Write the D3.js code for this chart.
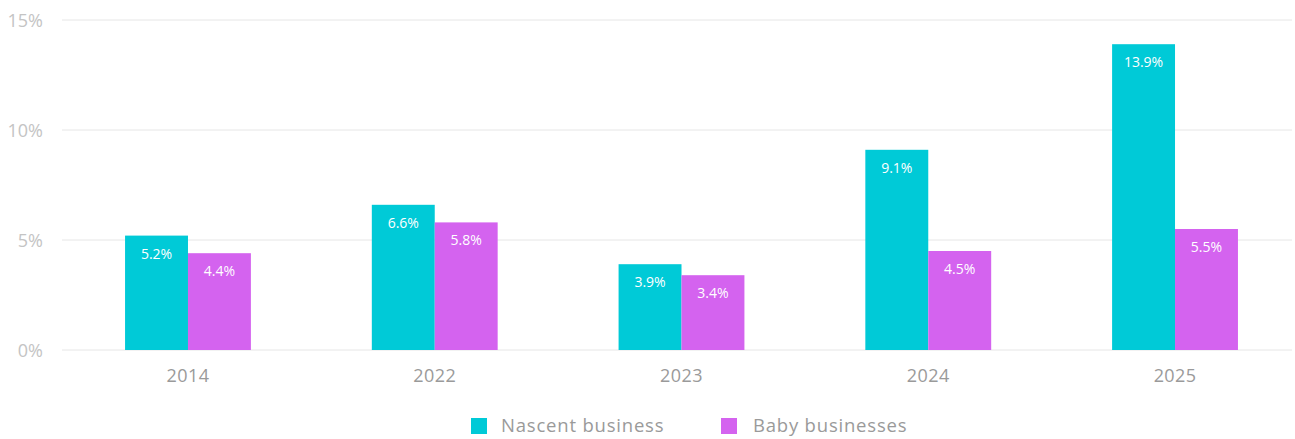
<!DOCTYPE html>
<html>
<head>
<meta charset="utf-8">
<script src="https://cdn.jsdelivr.net/npm/d3@7"></script>
<style>
  html, body { margin: 0; padding: 0; background: #fff; }
  svg { display: block; font-family: "Open Sans", "Noto Sans", sans-serif; }
</style>
</head>
<body>
<svg id="chart" width="1295" height="439"></svg>
<script>
// Chart data
const years = ["2014", "2022", "2023", "2024", "2025"];
const nascent = [5.2, 6.6, 3.9, 9.1, 13.9];
const baby = [4.4, 5.8, 3.4, 4.5, 5.5];
const seriesNames = ["Nascent business", "Baby businesses"];
const seriesColors = ["#00CAD7", "#D463EF"];
const yTicks = [0, 5, 10, 15];

const svg = d3.select("#chart");

const gridLeft = 62, gridRight = 1292;
const y = d3.scaleLinear().domain([0, 15]).range([350, 20]);

const x = d3.scaleBand()
  .domain(years)
  .range([64.6, 1298.4])
  .paddingInner(0.49)
  .paddingOuter(0.245);

const xs = d3.scaleBand()
  .domain(seriesNames)
  .range([0, x.bandwidth()]);

// Horizontal gridlines
svg.append("g")
  .selectAll("line")
  .data(yTicks)
  .join("line")
  .attr("x1", gridLeft)
  .attr("x2", gridRight)
  .attr("y1", d => y(d))
  .attr("y2", d => y(d))
  .attr("stroke", "#e6e6e6")
  .attr("stroke-width", 1);

// Y axis labels
svg.append("g")
  .selectAll("text")
  .data(yTicks)
  .join("text")
  .attr("x", 43)
  .attr("y", d => y(d) + 6.5)
  .attr("text-anchor", "end")
  .attr("font-size", 18)
  .attr("fill", "#c4c4c4")
  .text(d => d + "%");

// Bars
const rows = years.map((yr, i) => ({
  year: yr,
  values: [
    { name: seriesNames[0], value: nascent[i], color: seriesColors[0] },
    { name: seriesNames[1], value: baby[i], color: seriesColors[1] }
  ]
}));

const groups = svg.append("g")
  .selectAll("g")
  .data(rows)
  .join("g")
  .attr("transform", d => `translate(${x(d.year)},0)`);

groups.selectAll("rect")
  .data(d => d.values)
  .join("rect")
  .attr("x", d => xs(d.name))
  .attr("width", xs.bandwidth())
  .attr("y", d => y(d.value))
  .attr("height", d => y(0) - y(d.value))
  .attr("fill", d => d.color);

groups.selectAll("text.value")
  .data(d => d.values)
  .join("text")
  .attr("class", "value")
  .attr("x", d => xs(d.name) + xs.bandwidth() / 2)
  .attr("y", d => y(d.value) + 23)
  .attr("text-anchor", "middle")
  .attr("font-size", 14)
  .attr("fill", "#ffffff")
  .text(d => d.value.toFixed(1) + "%");

// X axis labels
svg.append("g")
  .selectAll("text")
  .data(years)
  .join("text")
  .attr("x", d => x(d) + x.bandwidth() / 2)
  .attr("y", 382)
  .attr("text-anchor", "middle")
  .attr("font-size", 18)
  .attr("letter-spacing", 0.4)
  .attr("fill", "#9a9a9a")
  .text(d => d);

// Legend
const legendX = [471, 721];
const legend = svg.append("g")
  .selectAll("g")
  .data(seriesNames)
  .join("g")
  .attr("transform", (d, i) => `translate(${legendX[i]},418)`);

legend.append("rect")
  .attr("width", 16)
  .attr("height", 16)
  .attr("fill", (d, i) => seriesColors[i]);

legend.append("text")
  .attr("x", (d, i) => i === 0 ? 30 : 32)
  .attr("y", 14)
  .attr("font-size", 18.5)
  .attr("letter-spacing", 0.8)
  .attr("fill", "#9a9a9a")
  .text(d => d);
</script>
</body>
</html>
